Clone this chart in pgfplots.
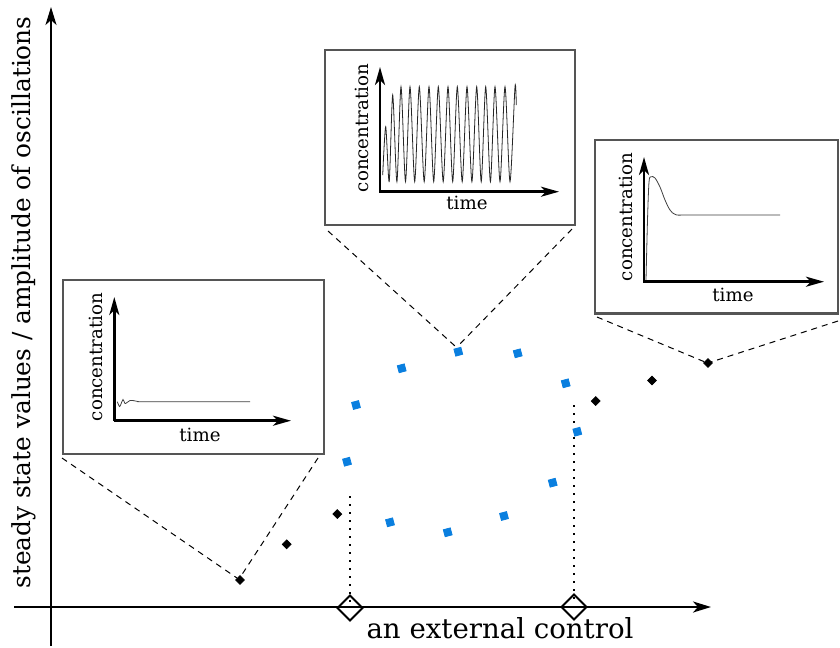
\documentclass[border=0pt]{standalone}
\usepackage{pgfplots}
\pgfplotsset{compat=1.18}
\usepackage{fontspec}
\setmainfont{DejaVu Serif}
\usetikzlibrary{arrows.meta}
\definecolor{ptblue}{HTML}{0A7FDF}
\definecolor{framegray}{HTML}{555555}
\begin{document}
\begin{tikzpicture}
\begin{axis}[width=420pt,height=323pt,scale only axis,
  xmin=0,xmax=840,ymin=0,ymax=646,y dir=reverse,hide axis,clip=false]
\path (0,0) rectangle (840,646);
% main axes
\draw[line width=1.15pt,-{Stealth[length=9pt,width=5.5pt,inset=2.5pt]}] (51,646) -- (51,7);
\draw[line width=1.15pt,-{Stealth[length=9pt,width=5.5pt,inset=2.5pt]}] (14,607) -- (711,607);
\node[rotate=90,font=\fontsize{12.4}{14}\selectfont] at (24,302.5) {steady state values / amplitude of oscillations};
\node[font=\fontsize{13.8}{16}\selectfont] at (500,628) {an external control};
% dashed connectors
\draw[line width=0.5pt,dash pattern=on 3pt off 2.5pt] (62,458) -- (237,578);
\draw[line width=0.5pt,dash pattern=on 3pt off 2.5pt] (318,458) -- (241,576);
\draw[line width=0.5pt,dash pattern=on 3pt off 2.5pt] (328,231) -- (455,346);
\draw[line width=0.5pt,dash pattern=on 3pt off 2.5pt] (572,229) -- (458,346);
\draw[line width=0.5pt,dash pattern=on 3pt off 2.5pt] (597,317) -- (705,362);
\draw[line width=0.5pt,dash pattern=on 3pt off 2.5pt] (838,321) -- (711,362);
% dotted verticals
\draw[line width=1.2pt,dash pattern=on 1.2pt off 2.8pt] (350,496) -- (350,604);
\draw[line width=1.2pt,dash pattern=on 1.2pt off 2.8pt] (574,405) -- (574,600);
% black points
\addplot[only marks,mark=square*,mark size=1.55pt,mark options={rotate=45,black}] coordinates {
(240,580) (286.7,544.3) (337.3,514) (595.7,401) (652,380.5) (708,363)};
% blue points
\addplot[only marks,mark=square*,mark size=1.8pt,mark options={rotate=15,ptblue,draw=ptblue}] coordinates {
(347,461.7) (356,405) (401.7,368.3) (458.3,351.7) (517.7,353.3) (565.7,383.3)
(577.3,431.7) (552.7,482.7) (504,516) (447.7,532.3) (390,522.3)};
% open diamonds
\addplot[only marks,mark=square,mark size=4.4pt,mark options={rotate=45,black,line width=1pt}] coordinates {
(350,608) (574,607)};
% ---------- inset 1 (left)
\draw[framegray,line width=1.1pt,fill=white] (63,280) rectangle (324,454);
\draw[line width=1.25pt,-{Stealth[length=9pt,width=5pt,inset=2.5pt]}] (114.3,421) -- (114.3,297);
\draw[line width=1.25pt,-{Stealth[length=9pt,width=5pt,inset=2.5pt]}] (113.7,420.7) -- (291,420.7);
\node[rotate=90,font=\fontsize{9.1}{10}\selectfont] at (96,357) {concentration};
\node[font=\fontsize{9.1}{10}\selectfont] at (200,435) {time};
\addplot[black!75,line width=0.4pt,smooth] coordinates {
(117.3,401.7) (119.5,406.5) (121,404) (123,399.5) (125,403.5) (127,402.5) (130,400.5) (134,400.7) (139,401.7) (146,401.8) (250,401.8)};
% ---------- inset 2 (middle)
\draw[framegray,line width=1.1pt,fill=white] (325,50) rectangle (575,225);
\draw[line width=1.25pt,-{Stealth[length=9pt,width=5pt,inset=2.5pt]}] (380,192) -- (380,67);
\draw[line width=1.25pt,-{Stealth[length=9pt,width=5pt,inset=2.5pt]}] (379.4,191.7) -- (559,191.7);
\node[rotate=90,font=\fontsize{9.1}{10}\selectfont] at (362,128) {concentration};
\node[font=\fontsize{9.1}{10}\selectfont] at (467,203) {time};
\addplot[black!85,line width=0.4pt,smooth,tension=0.45] coordinates {
(382.7,175) (385.7,126.7) (389.2,181.7) (392.7,95) (396.9,181.7) (401,86.7)
(405.5,181.7) (410,86.7) (414.7,181.7) (419.3,86.7) (424.2,181.7) (429,86.7)
(433.7,181.7) (438.3,86.7) (443.2,181.7) (448,86.7) (452.7,181.7) (457.3,86.7)
(462.2,181.7) (467,86.7) (471.9,181.7) (476.7,86.7) (481.2,181.7) (485.7,86.7)
(490.4,181.7) (495,86.7) (500,181.7) (505,86.7) (510,181.7) (515,86.7) (516.3,105)};
% ---------- inset 3 (right)
\draw[framegray,line width=1.1pt,fill=white] (595,140) rectangle (838,313.5);
\draw[line width=1.25pt,-{Stealth[length=9pt,width=5pt,inset=2.5pt]}] (644,282) -- (644,157);
\draw[line width=1.25pt,-{Stealth[length=9pt,width=5pt,inset=2.5pt]}] (643.4,281.7) -- (824,281.7);
\node[rotate=90,font=\fontsize{9.1}{10}\selectfont] at (626,217) {concentration};
\node[font=\fontsize{9.1}{10}\selectfont] at (733,295) {time};
\addplot[black!75,line width=0.4pt,smooth,tension=0.5] coordinates {
(646,280) (647.5,220) (649,182) (651,176.7) (655,178) (660,187) (665,200) (670,210) (676,214.8) (690,215) (780,215)};
\end{axis}
\end{tikzpicture}
\end{document}
